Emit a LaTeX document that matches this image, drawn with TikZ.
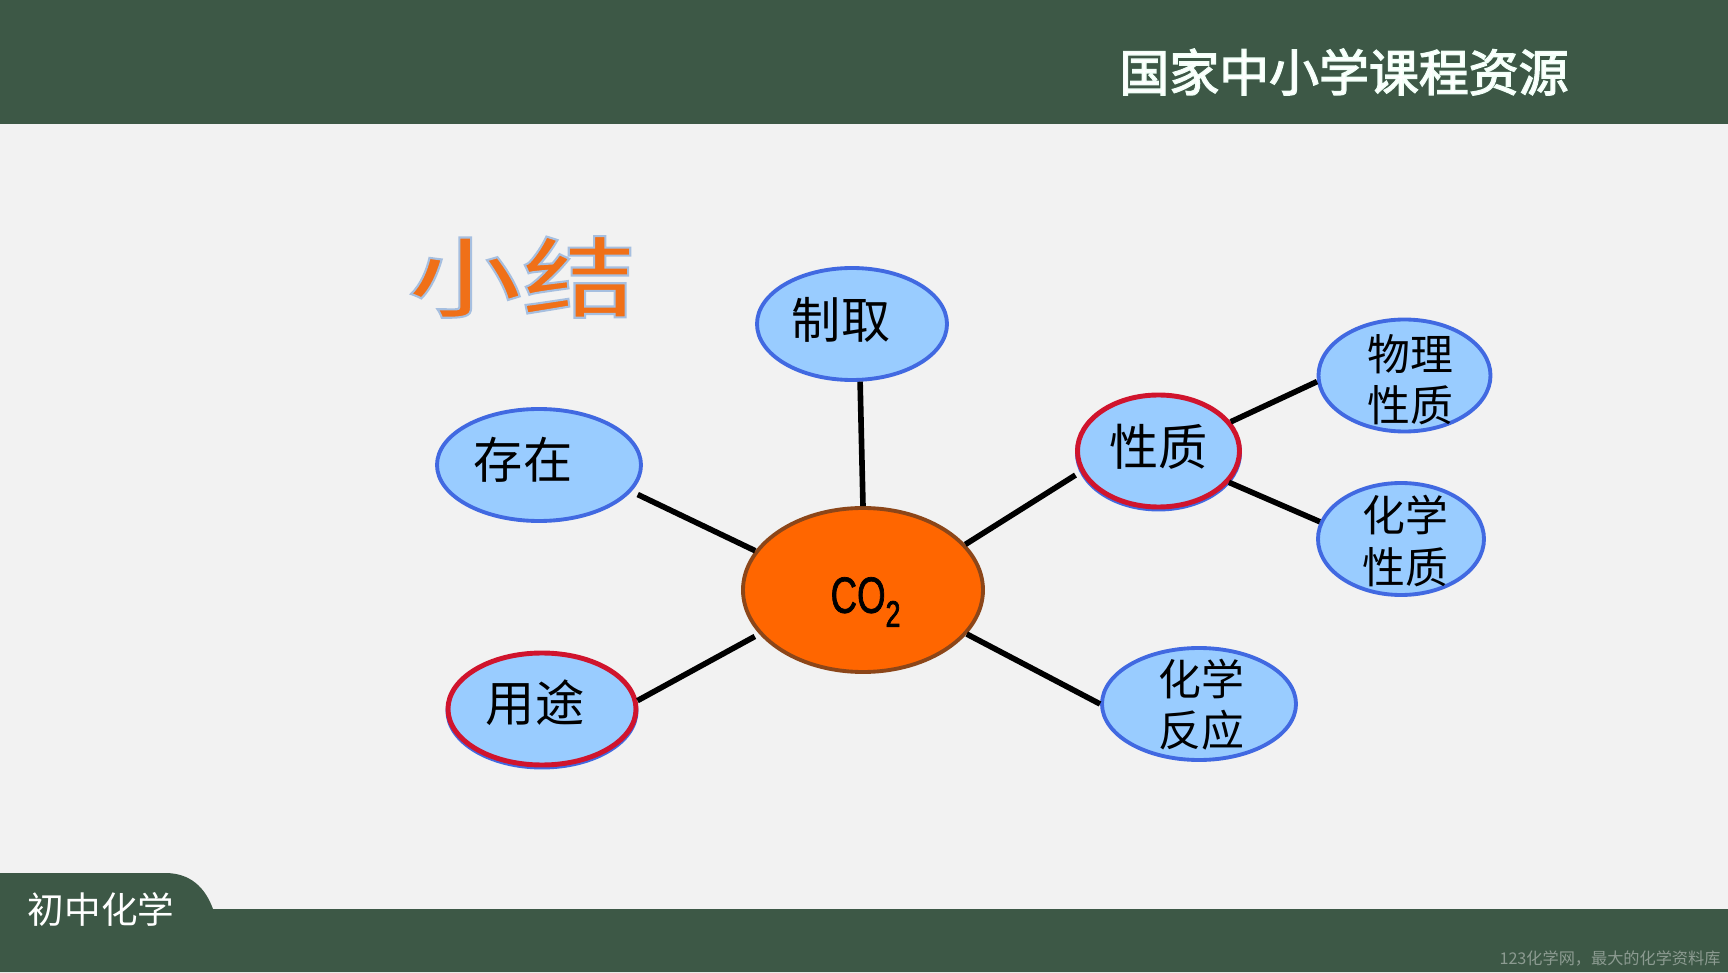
\documentclass[tikz,border=0pt]{standalone}
\usepackage{fontspec}
\setmainfont{Noto Sans CJK SC}
\newfontfamily\cofont[FakeStretch=0.72]{Liberation Sans}
\newfontfamily\titlefont[FakeStretch=1.3]{Noto Sans CJK SC Medium}
\usetikzlibrary{shapes.geometric}
\definecolor{bandgreen}{RGB}{61,88,70}
\definecolor{paper}{RGB}{242,242,242}
\definecolor{bubblefill}{RGB}{153,204,255}
\definecolor{bubbleline}{RGB}{65,105,225}
\definecolor{redline}{RGB}{208,20,45}
\definecolor{coorange}{RGB}{255,102,0}
\definecolor{coline}{RGB}{140,70,25}
\definecolor{titleorange}{RGB}{240,112,24}
\definecolor{footgrey}{RGB}{140,155,145}
\newcommand{\lbl}[3]{\raisebox{\dimexpr#2-0.25em\relax}[0pt][0pt]{\makebox[0pt]{\hspace*{#1}\begin{tabular}{@{}c@{}}#3\end{tabular}}}}
\newcommand{\outlined}[3]{\special{pdf:code 2 Tr #1 w #2 RG}#3\special{pdf:code 0 Tr}}
\tikzset{
	bubble/.style={ellipse,draw=bubbleline,fill=bubblefill,line width=1.1pt,inner sep=0pt,minimum height=1.12cm,text=black,font=\fontsize{14}{14}\selectfont},
	smallbubble/.style={bubble,font=\fontsize{12.2}{14.4}\selectfont},
	redbubble/.style={bubble,draw=redline,line width=1.4pt,preaction={draw=bubbleline,transform canvas={yshift=-0.02cm}}},
	link/.style={black,line width=1.6pt}
}
\begin{document}
\begin{tikzpicture}
		\useasboundingbox (0, 0) rectangle (17.28, 9.72);
		\fill[paper] (0, 0) rectangle (17.28, 9.72);
		\fill[bandgreen] (0, 8.48) rectangle (17.28, 9.72);
		\fill[bandgreen] (0, 0) -- (0, 0.99) -- (1.65, 0.99) .. controls (1.9, 0.99) and (2.05, 0.85) .. (2.13, 0.63) -- (17.28, 0.63) -- (17.28, 0) -- cycle;

		\node[text=white,font=\fontsize{14.2}{14.2}\selectfont] (brand) at (13.44, 9) {\outlined{0.4}{0.94 1 0.97}{国家中小学课程资源}};
		\node[text=white,font=\fontsize{10.4}{10.4}\selectfont] (subject) at (1.01, 0.63) {初中化学};
		\node[text=footgrey,font=\fontsize{4.6}{4.6}\selectfont] (footer) at (16.1, 0.14) {123化学网，最大的化学资料库};
		\node[text=titleorange,font=\fontsize{25}{25}\titlefont] (title) at (5.22, 6.95) {\outlined{0.6}{0.65 0.75 0.88}{小结}};

		\node[ellipse,draw=coline,fill=coorange,line width=1.1pt,inner sep=0pt,minimum width=2.4cm,minimum height=1.64cm] (co2) at (8.63, 3.82) {\lbl{0.05cm}{-0.12cm}{\fontsize{14.5}{14.5}\selectfont\cofont\outlined{0.2}{0 0 0}{CO\raisebox{-0.14cm}{\fontsize{10.5}{10.5}\selectfont 2}}}};
		\node[bubble,minimum width=1.9cm] (zhiqu) at (8.52, 6.48) {\lbl{-0.22cm}{-0.013cm}{制取}};
		\node[bubble,minimum width=2.04cm] (cunzai) at (5.39, 5.07) {\lbl{-0.32cm}{-0.003cm}{存在}};
		\node[redbubble,minimum width=1.88cm] (yongtu) at (5.42, 2.63) {\lbl{-0.14cm}{0.002cm}{用途}};
		\node[redbubble,minimum width=1.62cm] (xingzhi) at (11.585, 5.21) {\lbl{0cm}{-0.012cm}{性质}};
		\node[smallbubble,minimum width=1.72cm] (wuli) at (14.045, 5.965) {\lbl{0.12cm}{-0.1cm}{物理\\性质}};
		\node[smallbubble,minimum width=1.66cm] (huaxue) at (14.01, 4.33) {\lbl{0.08cm}{-0.078cm}{化学\\性质}};
		\node[smallbubble,minimum width=1.94cm] (fanying) at (11.99, 2.68) {\lbl{0.04cm}{-0.064cm}{化学\\反应}};

		\draw[link] (co2.90) edge (zhiqu.-82);
		\draw[link] (co2.160) edge[shorten >=0.07cm] (cunzai.-16);
		\draw[link] (co2.203) edge[shorten <=0.05cm] (yongtu.5);
		\draw[link] (co2.24.5) edge[shorten >=0.06cm] (xingzhi.195);
		\draw[link] (co2.-23.5) edge (fanying.180);
		\draw[link] (xingzhi.22) edge (wuli.184);
		\draw[link] (xingzhi.-24) edge (huaxue.168);
	\end{tikzpicture}
\end{document}
